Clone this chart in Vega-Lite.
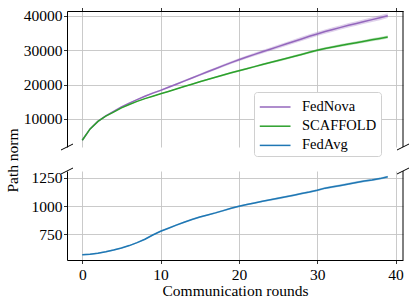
{
"$schema": "https://vega.github.io/schema/vega-lite/v6.json",
"background": "white",
"padding": {"left": 5, "top": 7, "right": 5, "bottom": 5},
"bounds": "flush",
"spacing": 24,
"resolve": {"legend": {"color": "independent"}},
"config": {
  "font": "Liberation Serif",
  "view": {"stroke": null},
  "axis": {"labelFont": "Liberation Serif", "labelFontSize": 15.5, "labelColor": "black", "titleFont": "Liberation Serif", "titleFontSize": 15.5, "titleFontWeight": "normal", "titleColor": "black", "domainColor": "black", "domainWidth": 1, "tickColor": "black", "tickSize": 3.5, "tickWidth": 0.8, "gridColor": "#c4c4c4", "gridWidth": 0.9, "labelPadding": 1.5, "labelFlush": false},
  "legend": {"labelFont": "Liberation Serif", "labelFontSize": 14.5, "labelColor": "black"}
},
"datasets": {
  "top": [
    {"x":0,"m":"FedNova","y":3800,"lo":3760,"hi":3840},
    {"x":1,"m":"FedNova","y":7100,"lo":7040,"hi":7160},
    {"x":2,"m":"FedNova","y":9300,"lo":9220,"hi":9380},
    {"x":3,"m":"FedNova","y":10900,"lo":10800,"hi":11000},
    {"x":4,"m":"FedNova","y":12200,"lo":12080,"hi":12320},
    {"x":5,"m":"FedNova","y":13500,"lo":13360,"hi":13640},
    {"x":6,"m":"FedNova","y":14600,"lo":14440,"hi":14760},
    {"x":7,"m":"FedNova","y":15600,"lo":15420,"hi":15780},
    {"x":8,"m":"FedNova","y":16600,"lo":16400,"hi":16800},
    {"x":9,"m":"FedNova","y":17500,"lo":17280,"hi":17720},
    {"x":10,"m":"FedNova","y":18300,"lo":18060,"hi":18540},
    {"x":11,"m":"FedNova","y":19200,"lo":18940,"hi":19460},
    {"x":12,"m":"FedNova","y":20100,"lo":19820,"hi":20380},
    {"x":13,"m":"FedNova","y":21000,"lo":20700,"hi":21300},
    {"x":14,"m":"FedNova","y":21900,"lo":21580,"hi":22220},
    {"x":15,"m":"FedNova","y":22800,"lo":22460,"hi":23140},
    {"x":16,"m":"FedNova","y":23700,"lo":23340,"hi":24060},
    {"x":17,"m":"FedNova","y":24600,"lo":24220,"hi":24980},
    {"x":18,"m":"FedNova","y":25500,"lo":25100,"hi":25900},
    {"x":19,"m":"FedNova","y":26350,"lo":25930,"hi":26770},
    {"x":20,"m":"FedNova","y":27200,"lo":26760,"hi":27640},
    {"x":21,"m":"FedNova","y":28000,"lo":27540,"hi":28460},
    {"x":22,"m":"FedNova","y":28750,"lo":28270,"hi":29230},
    {"x":23,"m":"FedNova","y":29500,"lo":29000,"hi":30000},
    {"x":24,"m":"FedNova","y":30250,"lo":29730,"hi":30770},
    {"x":25,"m":"FedNova","y":31000,"lo":30460,"hi":31540},
    {"x":26,"m":"FedNova","y":31750,"lo":31190,"hi":32310},
    {"x":27,"m":"FedNova","y":32500,"lo":31920,"hi":33080},
    {"x":28,"m":"FedNova","y":33250,"lo":32650,"hi":33850},
    {"x":29,"m":"FedNova","y":34000,"lo":33400,"hi":34600},
    {"x":30,"m":"FedNova","y":34700,"lo":34080,"hi":35320},
    {"x":31,"m":"FedNova","y":35400,"lo":34780,"hi":36020},
    {"x":32,"m":"FedNova","y":36000,"lo":35360,"hi":36640},
    {"x":33,"m":"FedNova","y":36600,"lo":35960,"hi":37240},
    {"x":34,"m":"FedNova","y":37200,"lo":36540,"hi":37860},
    {"x":35,"m":"FedNova","y":37750,"lo":37090,"hi":38410},
    {"x":36,"m":"FedNova","y":38300,"lo":37620,"hi":38980},
    {"x":37,"m":"FedNova","y":38850,"lo":38170,"hi":39530},
    {"x":38,"m":"FedNova","y":39400,"lo":38700,"hi":40100},
    {"x":39,"m":"FedNova","y":40000,"lo":39300,"hi":40700},
    {"x":0,"m":"SCAFFOLD","y":3800,"lo":3770,"hi":3830},
    {"x":1,"m":"SCAFFOLD","y":7100,"lo":7050,"hi":7150},
    {"x":2,"m":"SCAFFOLD","y":9300,"lo":9230,"hi":9370},
    {"x":3,"m":"SCAFFOLD","y":10800,"lo":10710,"hi":10890},
    {"x":4,"m":"SCAFFOLD","y":12000,"lo":11900,"hi":12100},
    {"x":5,"m":"SCAFFOLD","y":13200,"lo":13090,"hi":13310},
    {"x":6,"m":"SCAFFOLD","y":14200,"lo":14080,"hi":14320},
    {"x":7,"m":"SCAFFOLD","y":15100,"lo":14970,"hi":15230},
    {"x":8,"m":"SCAFFOLD","y":15900,"lo":15760,"hi":16040},
    {"x":9,"m":"SCAFFOLD","y":16600,"lo":16450,"hi":16750},
    {"x":10,"m":"SCAFFOLD","y":17300,"lo":17140,"hi":17460},
    {"x":11,"m":"SCAFFOLD","y":18000,"lo":17830,"hi":18170},
    {"x":12,"m":"SCAFFOLD","y":18700,"lo":18520,"hi":18880},
    {"x":13,"m":"SCAFFOLD","y":19400,"lo":19210,"hi":19590},
    {"x":14,"m":"SCAFFOLD","y":20100,"lo":19900,"hi":20300},
    {"x":15,"m":"SCAFFOLD","y":20800,"lo":20590,"hi":21010},
    {"x":16,"m":"SCAFFOLD","y":21450,"lo":21230,"hi":21670},
    {"x":17,"m":"SCAFFOLD","y":22100,"lo":21870,"hi":22330},
    {"x":18,"m":"SCAFFOLD","y":22750,"lo":22510,"hi":22990},
    {"x":19,"m":"SCAFFOLD","y":23400,"lo":23150,"hi":23650},
    {"x":20,"m":"SCAFFOLD","y":24000,"lo":23740,"hi":24260},
    {"x":21,"m":"SCAFFOLD","y":24600,"lo":24330,"hi":24870},
    {"x":22,"m":"SCAFFOLD","y":25200,"lo":24920,"hi":25480},
    {"x":23,"m":"SCAFFOLD","y":25800,"lo":25510,"hi":26090},
    {"x":24,"m":"SCAFFOLD","y":26400,"lo":26100,"hi":26700},
    {"x":25,"m":"SCAFFOLD","y":26950,"lo":26640,"hi":27260},
    {"x":26,"m":"SCAFFOLD","y":27550,"lo":27230,"hi":27870},
    {"x":27,"m":"SCAFFOLD","y":28150,"lo":27820,"hi":28480},
    {"x":28,"m":"SCAFFOLD","y":28750,"lo":28410,"hi":29090},
    {"x":29,"m":"SCAFFOLD","y":29350,"lo":29000,"hi":29700},
    {"x":30,"m":"SCAFFOLD","y":29950,"lo":29590,"hi":30310},
    {"x":31,"m":"SCAFFOLD","y":30450,"lo":30080,"hi":30820},
    {"x":32,"m":"SCAFFOLD","y":30900,"lo":30520,"hi":31280},
    {"x":33,"m":"SCAFFOLD","y":31350,"lo":30960,"hi":31740},
    {"x":34,"m":"SCAFFOLD","y":31750,"lo":31350,"hi":32150},
    {"x":35,"m":"SCAFFOLD","y":32150,"lo":31740,"hi":32560},
    {"x":36,"m":"SCAFFOLD","y":32550,"lo":32130,"hi":32970},
    {"x":37,"m":"SCAFFOLD","y":33000,"lo":32570,"hi":33430},
    {"x":38,"m":"SCAFFOLD","y":33400,"lo":32960,"hi":33840},
    {"x":39,"m":"SCAFFOLD","y":33800,"lo":33350,"hi":34250}
  ],
  "bottom": [
    {"x":0,"m":"FedAvg","y":572,"lo":566,"hi":578},
    {"x":1,"m":"FedAvg","y":576,"lo":570,"hi":582},
    {"x":2,"m":"FedAvg","y":585,"lo":579,"hi":591},
    {"x":3,"m":"FedAvg","y":598,"lo":592,"hi":604},
    {"x":4,"m":"FedAvg","y":613,"lo":607,"hi":619},
    {"x":5,"m":"FedAvg","y":630,"lo":624,"hi":636},
    {"x":6,"m":"FedAvg","y":652,"lo":646,"hi":658},
    {"x":7,"m":"FedAvg","y":678,"lo":672,"hi":684},
    {"x":8,"m":"FedAvg","y":708,"lo":701,"hi":715},
    {"x":9,"m":"FedAvg","y":745,"lo":738,"hi":752},
    {"x":10,"m":"FedAvg","y":778,"lo":771,"hi":785},
    {"x":11,"m":"FedAvg","y":805,"lo":798,"hi":812},
    {"x":12,"m":"FedAvg","y":832,"lo":825,"hi":839},
    {"x":13,"m":"FedAvg","y":858,"lo":851,"hi":865},
    {"x":14,"m":"FedAvg","y":882,"lo":875,"hi":889},
    {"x":15,"m":"FedAvg","y":903,"lo":896,"hi":910},
    {"x":16,"m":"FedAvg","y":922,"lo":915,"hi":929},
    {"x":17,"m":"FedAvg","y":940,"lo":932,"hi":948},
    {"x":18,"m":"FedAvg","y":960,"lo":952,"hi":968},
    {"x":19,"m":"FedAvg","y":980,"lo":972,"hi":988},
    {"x":20,"m":"FedAvg","y":998,"lo":990,"hi":1006},
    {"x":21,"m":"FedAvg","y":1013,"lo":1005,"hi":1021},
    {"x":22,"m":"FedAvg","y":1028,"lo":1020,"hi":1036},
    {"x":23,"m":"FedAvg","y":1042,"lo":1034,"hi":1050},
    {"x":24,"m":"FedAvg","y":1055,"lo":1047,"hi":1063},
    {"x":25,"m":"FedAvg","y":1068,"lo":1059,"hi":1077},
    {"x":26,"m":"FedAvg","y":1082,"lo":1073,"hi":1091},
    {"x":27,"m":"FedAvg","y":1096,"lo":1087,"hi":1105},
    {"x":28,"m":"FedAvg","y":1110,"lo":1101,"hi":1119},
    {"x":29,"m":"FedAvg","y":1124,"lo":1115,"hi":1133},
    {"x":30,"m":"FedAvg","y":1140,"lo":1131,"hi":1149},
    {"x":31,"m":"FedAvg","y":1158,"lo":1148,"hi":1168},
    {"x":32,"m":"FedAvg","y":1170,"lo":1160,"hi":1180},
    {"x":33,"m":"FedAvg","y":1182,"lo":1172,"hi":1192},
    {"x":34,"m":"FedAvg","y":1195,"lo":1185,"hi":1205},
    {"x":35,"m":"FedAvg","y":1208,"lo":1198,"hi":1218},
    {"x":36,"m":"FedAvg","y":1220,"lo":1210,"hi":1230},
    {"x":37,"m":"FedAvg","y":1230,"lo":1220,"hi":1240},
    {"x":38,"m":"FedAvg","y":1242,"lo":1232,"hi":1252},
    {"x":39,"m":"FedAvg","y":1258,"lo":1248,"hi":1268}
  ],
  "brk_top": [{"x":-1.95,"y":1850},{"x":40.95,"y":1850}],
  "brk_bottom": [{"x":-1.95,"y":1309},{"x":40.95,"y":1309}]
},
"vconcat": [
  {
    "width": 336,
    "height": 136,
    "layer": [
      {
        "data": {"name": "top"},
        "mark": {"type": "area", "opacity": 0.3},
        "encoding": {
          "x": {"field": "x", "type": "quantitative", "scale": {"domain": [-1.95, 40.95], "nice": false, "zero": false}, "axis": {"orient": "top", "values": [0, 10, 20, 30, 40], "labels": false, "title": null, "grid": true}},
          "y": {"field": "lo", "type": "quantitative", "scale": {"domain": [1850, 41360], "nice": false, "zero": false}, "axis": {"values": [10000, 20000, 30000, 40000], "format": "d", "title": "Path norm", "titleX": -50, "titleY": 149, "titleBaseline": "alphabetic", "grid": true}},
          "y2": {"field": "hi"},
          "fill": {"field": "m", "type": "nominal", "scale": {"domain": ["FedNova", "SCAFFOLD", "FedAvg"], "range": ["#9467bd", "#2ca02c", "#1f77b4"]}, "legend": null}
        }
      },
      {
        "data": {"name": "top"},
        "mark": {"type": "line", "strokeWidth": 1.5},
        "encoding": {
          "x": {"field": "x", "type": "quantitative"},
          "y": {"field": "y", "type": "quantitative"},
          "color": {"field": "m", "type": "nominal", "scale": {"domain": ["FedNova", "SCAFFOLD", "FedAvg"], "range": ["#9467bd", "#2ca02c", "#1f77b4"]},
            "legend": {"orient": "none", "legendX": 187, "legendY": 81, "title": null, "symbolType": "M-0.9,0L2.1,0", "symbolSize": 420, "symbolStrokeWidth": 1.5, "labelOffset": 22, "padding": 4, "rowPadding": 1.2, "fillColor": "white", "strokeColor": "#d0d0d0", "cornerRadius": 3, "labelFont": "Liberation Serif", "labelFontSize": 14.5}}
        }
      },
      {
        "data": {"values": [{}]},
        "mark": {"type": "rule", "color": "black", "strokeWidth": 1},
        "encoding": {"x": {"datum": 40.95}}
      },
      {
        "data": {"name": "brk_top"},
        "mark": {"type": "point", "shape": "M-1,0.5L1,-0.5", "size": 144, "filled": false, "stroke": "black", "strokeWidth": 1, "opacity": 1, "clip": false},
        "encoding": {"x": {"field": "x", "type": "quantitative"}, "y": {"field": "y", "type": "quantitative"}}
      }
    ]
  },
  {
    "width": 336,
    "height": 89,
    "layer": [
      {
        "data": {"name": "bottom"},
        "mark": {"type": "area", "opacity": 0.3},
        "encoding": {
          "x": {"field": "x", "type": "quantitative", "scale": {"domain": [-1.95, 40.95], "nice": false, "zero": false}, "axis": {"values": [0, 10, 20, 30, 40], "format": "d", "labelPadding": 4, "title": "Communication rounds", "titlePadding": 0, "grid": true}},
          "y": {"field": "lo", "type": "quantitative", "scale": {"domain": [525, 1309], "nice": false, "zero": false}, "axis": {"values": [750, 1000, 1250], "format": "d", "title": null, "grid": true}},
          "y2": {"field": "hi"},
          "fill": {"field": "m", "type": "nominal", "scale": {"domain": ["FedNova", "SCAFFOLD", "FedAvg"], "range": ["#9467bd", "#2ca02c", "#1f77b4"]}, "legend": null}
        }
      },
      {
        "data": {"name": "bottom"},
        "mark": {"type": "line", "strokeWidth": 1.5},
        "encoding": {
          "x": {"field": "x", "type": "quantitative"},
          "y": {"field": "y", "type": "quantitative"},
          "color": {"field": "m", "type": "nominal", "scale": {"domain": ["FedNova", "SCAFFOLD", "FedAvg"], "range": ["#9467bd", "#2ca02c", "#1f77b4"]}, "legend": null}
        }
      },
      {
        "data": {"values": [{}]},
        "mark": {"type": "rule", "color": "black", "strokeWidth": 1},
        "encoding": {"x": {"datum": 40.95}}
      },
      {
        "data": {"name": "brk_bottom"},
        "mark": {"type": "point", "shape": "M-1,0.5L1,-0.5", "size": 144, "filled": false, "stroke": "black", "strokeWidth": 1, "opacity": 1, "clip": false},
        "encoding": {"x": {"field": "x", "type": "quantitative"}, "y": {"field": "y", "type": "quantitative"}}
      }
    ]
  }
]
}
